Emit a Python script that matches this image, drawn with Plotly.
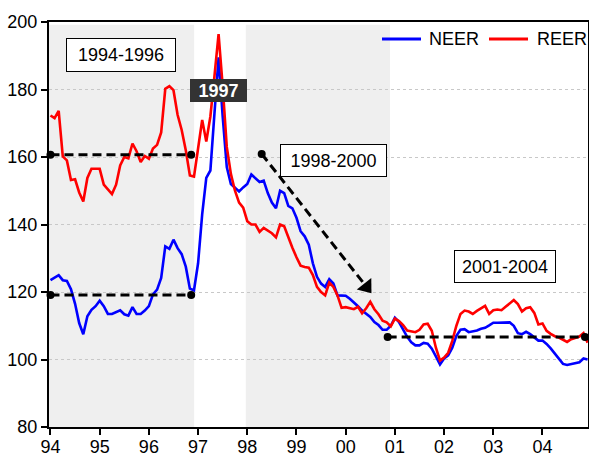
import plotly.graph_objects as go
import math

# ---------------- data ----------------
years = list(range(1994, 2005))
tick_labels = ["94", "95", "96", "97", "98", "99", "00", "01", "02", "03", "04"]

neer = [
    123.5, 124.3, 125.0, 123.5, 123.3, 120.8, 116.5, 110.8, 107.5, 112.8, 114.7, 115.8,  # 1994
    117.4, 115.8, 113.5, 113.5, 114.1, 114.6, 113.4, 113.0, 115.5, 113.5, 113.5, 114.5,  # 1995
    115.8, 119.3, 120.7, 124.2, 133.5, 132.8, 135.5, 133.0, 131.2, 127.5, 121.0, 120.5,  # 1996
    128.5, 143.0, 153.8, 156.0, 173.0, 189.5, 172.0, 157.0, 152.0, 151.0, 149.8, 151.0,  # 1997
    152.0, 154.8, 153.8, 152.6, 153.0, 149.3, 146.5, 144.8, 150.0, 149.3, 145.5, 144.8,  # 1998
    142.0, 138.0, 136.5, 134.0, 128.5, 124.5, 122.5, 121.5, 123.8, 122.5, 119.0, 119.0,  # 1999
    118.9, 118.0, 117.0, 115.8, 114.5, 113.6, 112.6, 111.1, 110.2, 108.8, 108.8, 110.0,  # 2000
    112.4, 111.1, 108.8, 106.7, 105.1, 104.2, 104.2, 104.9, 104.7, 103.2, 100.9, 98.5,   # 2001
    100.3, 101.2, 103.5, 107.0, 108.8, 109.0, 108.1, 108.3, 108.6, 109.1, 109.4, 110.1,  # 2002
    110.9, 110.9, 110.9, 111.0, 111.0, 110.0, 107.8, 107.5, 108.2, 107.5, 106.5, 105.6,  # 2003
    105.6, 104.6, 103.3, 101.8, 100.3, 98.7, 98.4, 98.7, 98.8, 99.2, 100.3, 100.0,       # 2004
]

reer = [
    172.3, 171.5, 173.7, 160.2, 159.0, 153.2, 153.4, 149.5, 146.8, 153.8, 156.5, 156.5,  # 1994
    156.5, 151.8, 150.4, 149.0, 151.8, 157.5, 160.0, 159.6, 164.0, 161.7, 158.5, 160.3,  # 1995
    159.5, 162.5, 163.6, 167.3, 180.2, 181.0, 179.8, 172.5, 168.0, 162.0, 154.5, 154.2,  # 1996
    162.5, 171.0, 164.6, 172.0, 184.0, 196.4, 181.0, 163.0, 155.0, 150.0, 146.5, 145.0,  # 1997
    141.0, 140.0, 140.0, 137.8, 139.0, 138.2, 137.4, 136.2, 140.0, 139.5, 136.0, 133.1,  # 1998
    130.3, 127.8, 127.4, 127.2, 125.0, 121.5, 120.0, 119.0, 122.8, 121.5, 119.0, 115.3,  # 1999
    115.5, 115.2, 114.9, 115.6, 113.7, 115.2, 117.1, 114.9, 113.4, 111.5, 111.0, 109.8,  # 2000
    112.1, 111.4, 110.2, 108.6, 108.4, 108.1, 108.8, 110.4, 110.6, 108.5, 103.5, 99.7,   # 2001
    100.6, 102.0, 105.5, 110.0, 113.5, 114.5, 114.2, 113.5, 114.4, 115.2, 115.9, 113.5,  # 2002
    114.6, 114.8, 114.6, 115.6, 116.5, 117.6, 116.4, 114.2, 115.2, 115.5, 113.8, 110.4,  # 2003
    110.7, 108.5, 107.6, 106.9, 106.5, 105.9, 105.2, 106.0, 106.3, 106.8, 107.8, 105.0,  # 2004
]

series_names = ["NEER", "REER"]
series_colors = ["#0000ff", "#ff0000"]

# shaded periods (start, end) in decimal years
shade_periods = [(1993.97, 1996.92), (1997.97, 2000.9)]

# horizontal reference levels: (x_start, x_end, level)
ref_x0 = [1994.0, 1994.0, 2000.853]
ref_x1 = [1996.86, 1996.86, 2004.864]
ref_level = [160.7, 119.1, 106.7]

# trend arrow (start, tip)
arrow_x = [1998.293, 2000.549]
arrow_y = [160.9, 119.2]

period_labels = ["1994-1996", "1997", "1998-2000", "2001-2004"]

dates = [y + m / 12 for y in years for m in range(12)]

# ---------------- figure ----------------
W, H = 589, 456
ML, MR, MT, MB = 49, 1, 22, 29
XR = [1993.97, 2004.925]
YR = [80, 200]
PW, PH = W - ML - MR, H - MT - MB
px_per_x = PW / (XR[1] - XR[0])
px_per_y = PH / (YR[1] - YR[0])

FONT = "Liberation Sans, Arial, sans-serif"

fig = go.Figure()

for name, vals, col in zip(series_names, [neer, reer], series_colors):
    fig.add_trace(go.Scatter(x=dates, y=vals, mode="lines", name=name,
                             line=dict(color=col, width=2.6), showlegend=False))

for x0, x1, lv in zip(ref_x0, ref_x1, ref_level):
    fig.add_trace(go.Scatter(x=[x0, x1], y=[lv, lv], mode="lines+markers",
                             line=dict(color="black", width=3, dash="9px,5px"),
                             marker=dict(color="black", size=8),
                             showlegend=False, cliponaxis=False, hoverinfo="skip"))

# arrow: dashed shaft + triangle head
dxp = (arrow_x[1] - arrow_x[0]) * px_per_x
dyp = (arrow_y[0] - arrow_y[1]) * px_per_y
L = math.hypot(dxp, dyp)
ux, uy = dxp / L, dyp / L
head = 15  # px length of the head
r = head / 1.5
cx = arrow_x[1] - r * ux / px_per_x
cy = arrow_y[1] + r * uy / px_per_y
bx = arrow_x[1] - head * ux / px_per_x
by = arrow_y[1] + head * uy / px_per_y
ang = 180 - math.degrees(math.atan2(dxp, dyp))
fig.add_trace(go.Scatter(x=[arrow_x[0], bx], y=[arrow_y[0], by], mode="lines",
                         line=dict(color="black", width=3, dash="9px,5px"),
                         showlegend=False, hoverinfo="skip"))
fig.add_trace(go.Scatter(x=[arrow_x[0]], y=[arrow_y[0]], mode="markers",
                         marker=dict(color="black", size=8),
                         showlegend=False, hoverinfo="skip"))
fig.add_trace(go.Scatter(x=[cx], y=[cy], mode="markers",
                         marker=dict(color="black", size=1.6 * r, symbol="triangle-up",
                                     angle=ang, line=dict(width=0)),
                         showlegend=False, hoverinfo="skip"))

for x0, x1 in shade_periods:
    fig.add_shape(type="rect", xref="x", yref="y", x0=x0, x1=x1, y0=80, y1=199.2,
                  fillcolor="#efefef", line=dict(width=0), layer="below")

# legend (drawn as line swatches + labels, top right inside the frame)
def px2paper_x(px):
    return (px - ML) / PW

def px2paper_y(py):
    return (H - MB - py) / PH

leg_y = px2paper_y(39)
leg_items = [(382, 421, 427), (489, 528, 535)]
for (lx0, lx1, tx), name, col in zip(leg_items, series_names, series_colors):
    fig.add_shape(type="line", xref="paper", yref="paper",
                  x0=px2paper_x(lx0), x1=px2paper_x(lx1), y0=leg_y, y1=leg_y,
                  line=dict(color=col, width=3))
    fig.add_annotation(xref="paper", yref="paper", x=px2paper_x(tx), y=leg_y,
                       xanchor="left", yanchor="middle", text=name, showarrow=False,
                       font=dict(family=FONT, size=18, color="black"))

box_style = dict(showarrow=False, bordercolor="black", borderwidth=1,
                 bgcolor="white", font=dict(family=FONT, size=18, color="black"))
fig.add_annotation(x=1995.443, y=190.3, text=period_labels[0], width=100, height=24,
                   borderpad=4, **box_style)
fig.add_annotation(x=1999.746, y=159.1, text=period_labels[2], width=97, height=23,
                   borderpad=4, **box_style)
fig.add_annotation(x=2003.238, y=127.6, text=period_labels[3], width=92, height=23,
                   borderpad=4, **box_style)
fig.add_annotation(x=1997.415, y=179.6, text="<b>" + period_labels[1] + "</b>",
                   showarrow=False, bgcolor="#333333", bordercolor="#333333",
                   borderwidth=1, borderpad=1, width=53, height=19,
                   font=dict(family=FONT, size=18, color="white"))

fig.update_layout(
    width=W, height=H,
    margin=dict(l=ML, r=MR, t=MT, b=MB, autoexpand=False),
    paper_bgcolor="white", plot_bgcolor="white",
    font=dict(family=FONT, size=17, color="black"),
    showlegend=False,
)
fig.update_xaxes(range=XR, tickvals=years, ticktext=tick_labels, automargin=False,
                 showgrid=False, zeroline=False,
                 showline=True, linecolor="black", linewidth=2, mirror=True,
                 ticks="outside", ticklen=6, tickwidth=1.5, tickcolor="black",
                 tickfont=dict(size=18), ticklabelstandoff=-4)
fig.update_yaxes(range=YR, tickvals=[80, 100, 120, 140, 160, 180, 200], automargin=False,
                 showgrid=True, gridcolor="#c8c8c8", griddash="dot", gridwidth=1,
                 zeroline=False,
                 showline=True, linecolor="black", linewidth=2, mirror=True,
                 ticks="outside", ticklen=6, tickwidth=1.5, tickcolor="black",
                 tickfont=dict(size=18))

fig.write_html("out.html", config={"displayModeBar": False},
               post_script="document.body.style.margin='0';document.body.style.padding='0';")
